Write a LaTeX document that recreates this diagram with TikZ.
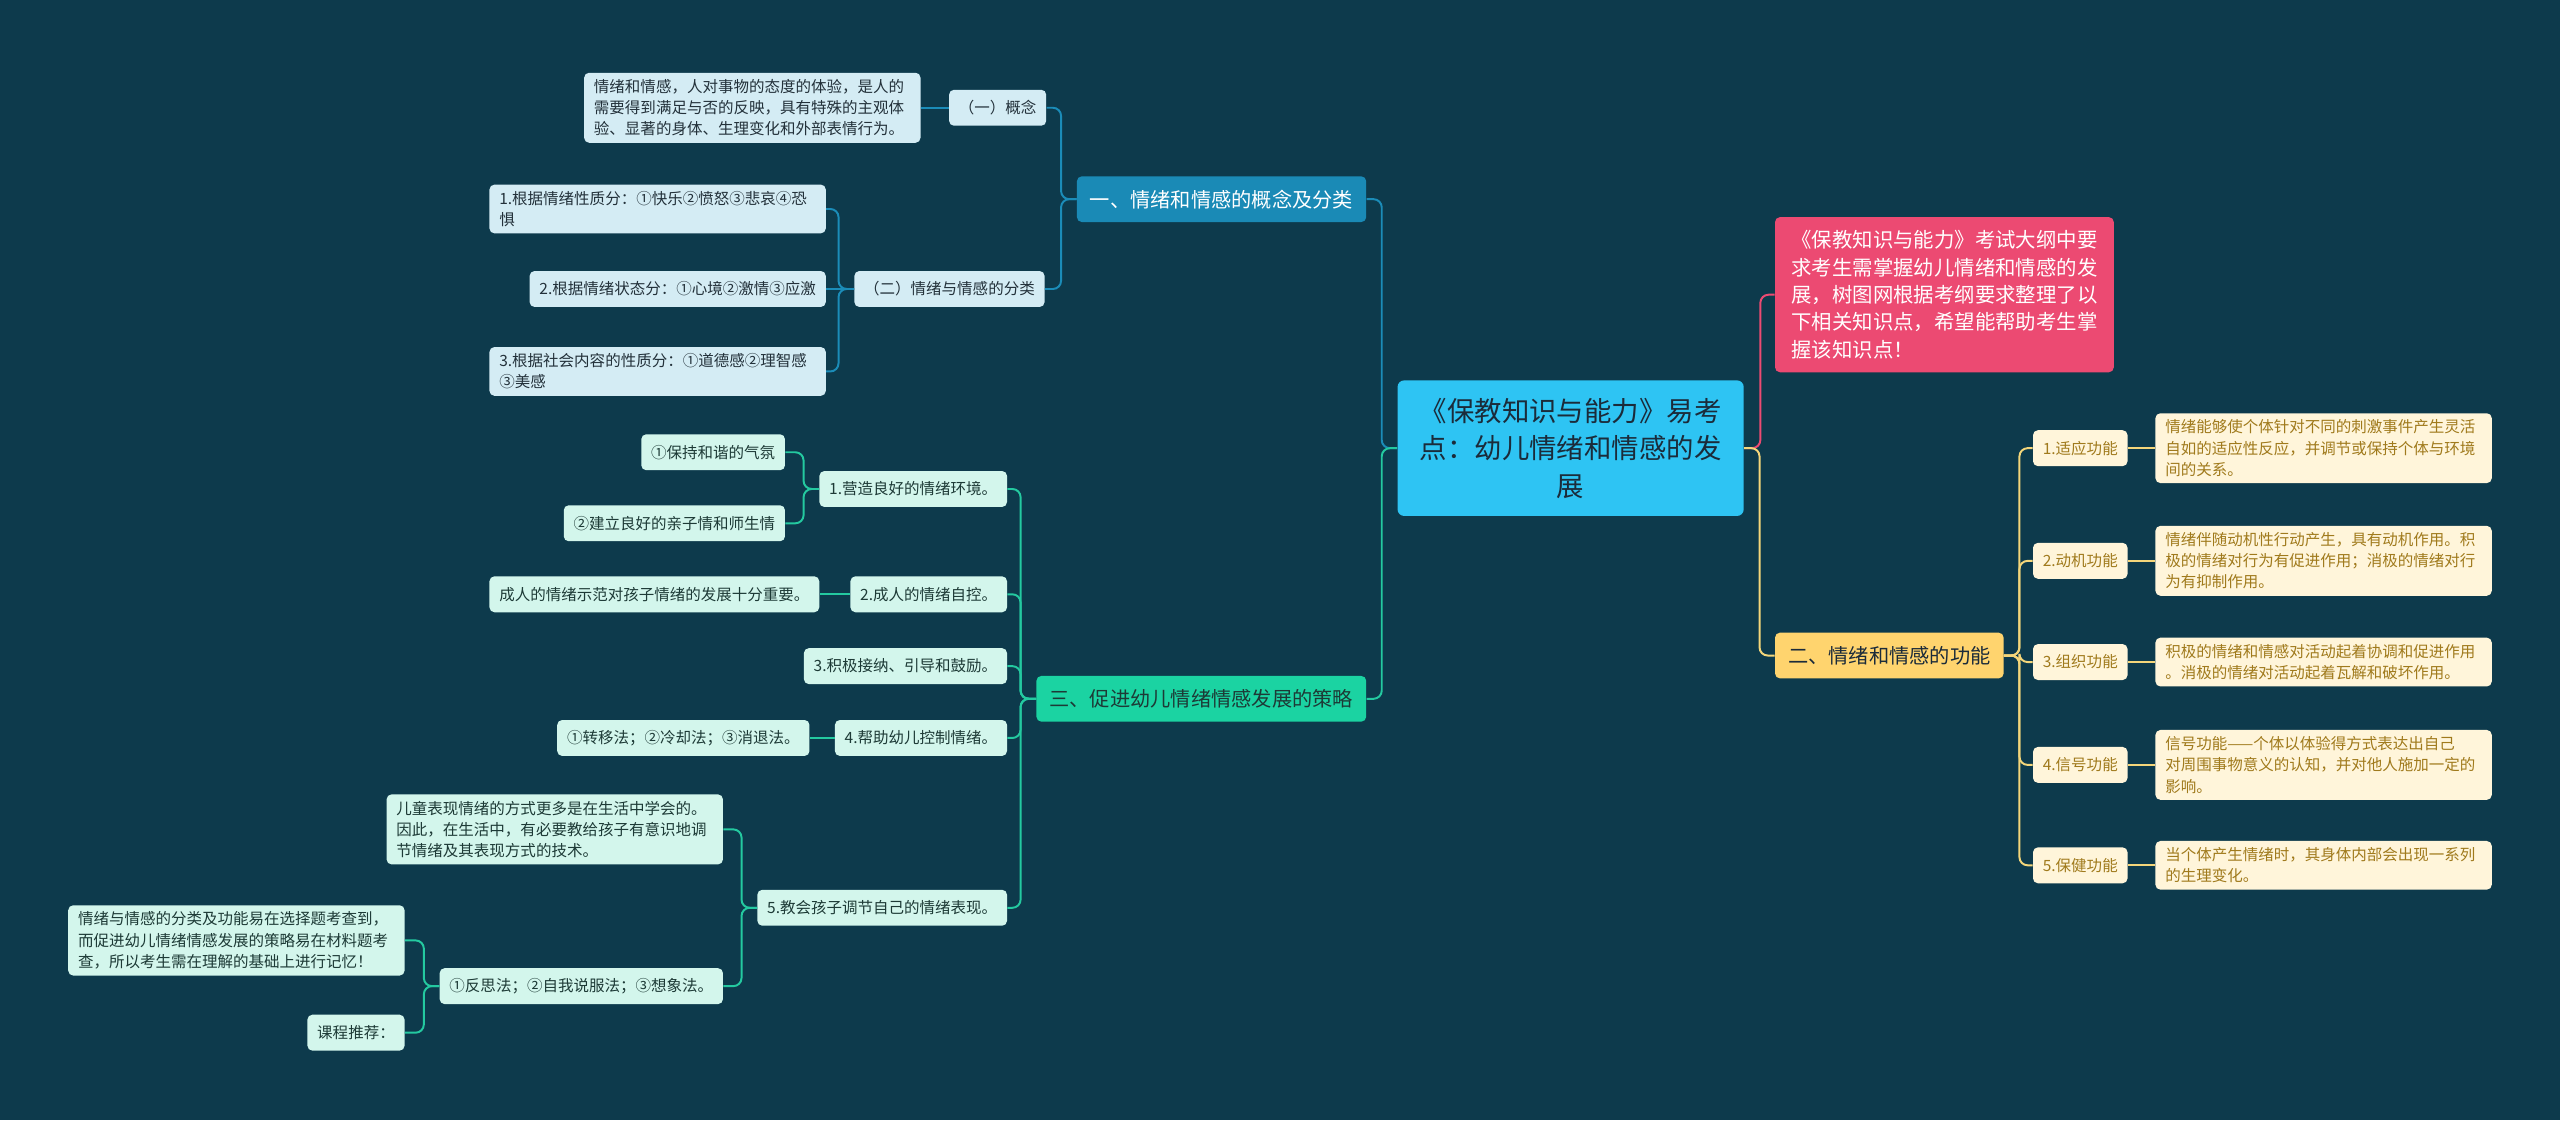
\documentclass[tikz,border=0pt]{standalone}
\usepackage{fontspec}
\setmainfont{Noto Sans CJK SC}
\usetikzlibrary{positioning}
\definecolor{bg}{HTML}{0D3A4C}
\definecolor{rootfill}{HTML}{2EC4F3}
\definecolor{roottx}{HTML}{1B2B3A}
\definecolor{bluemain}{HTML}{1A8AB6}
\definecolor{bluelt}{HTML}{D4ECF4}
\definecolor{bluetx}{HTML}{23313A}
\definecolor{blueline}{HTML}{1B8CB8}
\definecolor{greenmain}{HTML}{1BD3A2}
\definecolor{greenlt}{HTML}{D3F6EC}
\definecolor{greentx}{HTML}{1D3A36}
\definecolor{greenline}{HTML}{24C9A0}
\definecolor{pink}{HTML}{EC4A72}
\definecolor{goldmain}{HTML}{FFD46E}
\definecolor{goldlt}{HTML}{FFF5DA}
\definecolor{goldtx}{HTML}{A07A1C}
\definecolor{goldline}{HTML}{F4D67A}

\begin{document}
\begin{tikzpicture}[x=1pt,y=-1pt,
  box/.style={rounded corners=3pt,inner xsep=6pt,inner ysep=4pt,minimum height=22pt,align=left,font=\fontsize{9.5}{13}\selectfont},
  para/.style={text width=194pt},
  bluesub/.style={box,fill=bluelt,text=bluetx},
  greensub/.style={box,fill=greenlt,text=greentx},
  goldsub/.style={box,fill=goldlt,text=goldtx},
  topic/.style={rounded corners=3pt,inner xsep=8pt,minimum height=28pt,font=\fontsize{12.4}{16}\selectfont},
  blueln/.style={draw=blueline,line width=1.2pt,rounded corners=5pt},
  greenln/.style={draw=greenline,line width=1.2pt,rounded corners=5pt},
  goldln/.style={draw=goldline,line width=1.2pt,rounded corners=5pt},
  pinkln/.style={draw=pink,line width=1.2pt,rounded corners=5pt}]
\useasboundingbox (0,0) rectangle (1568,686);
\fill[bg] (0,0) rectangle (1568,686);

% centre
\node[fill=rootfill,text=roottx,rounded corners=4pt,minimum width=212pt,minimum height=83pt,text width=186pt,align=center,font=\fontsize{16.8}{23}\selectfont] (root) at (962,274.5) {《保教知识与能力》易考\\点：幼儿情绪和情感的发\\展};

% main topics
\node[topic,fill=bluemain,text=white,anchor=east] (t1) at (837,122) {一、情绪和情感的概念及分类};
\node[topic,fill=greenmain,text=greentx,anchor=east] (t3) at (837,428) {三、促进幼儿情绪情感发展的策略};
\node[topic,fill=goldmain,text=roottx,anchor=west] (t2) at (1087,401.5) {二、情绪和情感的功能};
\node[fill=pink,text=white,rounded corners=3pt,anchor=west,inner xsep=10pt,minimum height=95pt,align=left,font=\fontsize{12.5}{16.7}\selectfont] (intro) at (1087,180.5) {《保教知识与能力》考试大纲中要\\求考生需掌握幼儿情绪和情感的发\\展，树图网根据考纲要求整理了以\\下相关知识点，希望能帮助考生掌\\握该知识点！};

% branch one
\node[bluesub,anchor=east] (b1) at (641,66) {（一）概念};
\node[bluesub,para,anchor=east] (b1a) at (564,66) {情绪和情感，人对事物的态度的体验，是人的\\需要得到满足与否的反映，具有特殊的主观体\\验、显著的身体、生理变化和外部表情行为。};
\node[bluesub,anchor=east] (b2) at (640,177) {（二）情绪与情感的分类};
\node[bluesub,para,anchor=east] (b2a) at (506,128) {1.根据情绪性质分：①快乐②愤怒③悲哀④恐\\惧};
\node[bluesub,anchor=east] (b2b) at (506,177) {2.根据情绪状态分：①心境②激情③应激};
\node[bluesub,para,anchor=east] (b2c) at (506,227.5) {3.根据社会内容的性质分：①道德感②理智感\\③美感};

% branch three
\node[greensub,anchor=east] (g1) at (617,299.5) {1.营造良好的情绪环境。};
\node[greensub,anchor=east] (g1a) at (481,277) {①保持和谐的气氛};
\node[greensub,anchor=east] (g1b) at (481,320.5) {②建立良好的亲子情和师生情};
\node[greensub,anchor=east] (g2) at (617,364) {2.成人的情绪自控。};
\node[greensub,anchor=east] (g2a) at (502,364) {成人的情绪示范对孩子情绪的发展十分重要。};
\node[greensub,anchor=east] (g3) at (617,408) {3.积极接纳、引导和鼓励。};
\node[greensub,anchor=east] (g4) at (617,452) {4.帮助幼儿控制情绪。};
\node[greensub,anchor=east] (g4a) at (496,452) {①转移法；②冷却法；③消退法。};
\node[greensub,anchor=east] (g5) at (617,556) {5.教会孩子调节自己的情绪表现。};
\node[greensub,para,anchor=east] (g5a) at (443,508) {儿童表现情绪的方式更多是在生活中学会的。\\因此，在生活中，有必要教给孩子有意识地调\\节情绪及其表现方式的技术。};
\node[greensub,anchor=east] (g5b) at (443,604) {①反思法；②自我说服法；③想象法。};
\node[greensub,para,anchor=east] (g5c) at (248,576) {情绪与情感的分类及功能易在选择题考查到，\\而促进幼儿情绪情感发展的策略易在材料题考\\查，所以考生需在理解的基础上进行记忆！};
\node[greensub,anchor=east] (g5d) at (248,632.5) {课程推荐：};

% branch two
\node[goldsub,anchor=west] (f1) at (1245,274.5) {1.适应功能};
\node[goldsub,anchor=west] (f2) at (1245,343.5) {2.动机功能};
\node[goldsub,anchor=west] (f3) at (1245,405.5) {3.组织功能};
\node[goldsub,anchor=west] (f4) at (1245,468.5) {4.信号功能};
\node[goldsub,anchor=west] (f5) at (1245,530) {5.保健功能};
\node[goldsub,para,anchor=west] (d1) at (1320,274.5) {情绪能够使个体针对不同的刺激事件产生灵活\\自如的适应性反应，并调节或保持个体与环境\\间的关系。};
\node[goldsub,para,anchor=west] (d2) at (1320,343.5) {情绪伴随动机性行动产生，具有动机作用。积\\极的情绪对行为有促进作用；消极的情绪对行\\为有抑制作用。};
\node[goldsub,para,anchor=west] (d3) at (1320,405.5) {积极的情绪和情感对活动起着协调和促进作用\\。消极的情绪对活动起着瓦解和破坏作用。};
\node[goldsub,para,anchor=west] (d4) at (1320,468.5) {信号功能——个体以体验得方式表达出自己\\对周围事物意义的认知，并对他人施加一定的\\影响。};
\node[goldsub,para,anchor=west] (d5) at (1320,530) {当个体产生情绪时，其身体内部会出现一系列\\的生理变化。};

% connectors
\foreach \a/\b in {root/t1,t1/b1,t1/b2,b2/b2a,b2/b2c}{\draw[blueln] (\a.west) -- ++(-9.5,0) |- (\b.east);}
\foreach \a/\b in {b1/b1a,b2/b2b}{\draw[blueln] (\a.west) -- (\b.east);}
\foreach \a/\b in {root/t3,t3/g1,t3/g2,t3/g3,t3/g4,t3/g5,g1/g1a,g1/g1b,g5/g5a,g5/g5b,g5b/g5c,g5b/g5d}{\draw[greenln] (\a.west) -- ++(-9.5,0) |- (\b.east);}
\foreach \a/\b in {g2/g2a,g4/g4a}{\draw[greenln] (\a.west) -- (\b.east);}
\draw[pinkln] (root.east) -- ++(10,0) |- (intro.west);
\foreach \a/\b in {root/t2,t2/f1,t2/f2,t2/f3,t2/f4,t2/f5}{\draw[goldln] (\a.east) -- ++(9.5,0) |- (\b.west);}
\foreach \a/\b in {f1/d1,f2/d2,f3/d3,f4/d4,f5/d5}{\draw[goldln] (\a.east) -- (\b.west);}
\end{tikzpicture}
\end{document}
